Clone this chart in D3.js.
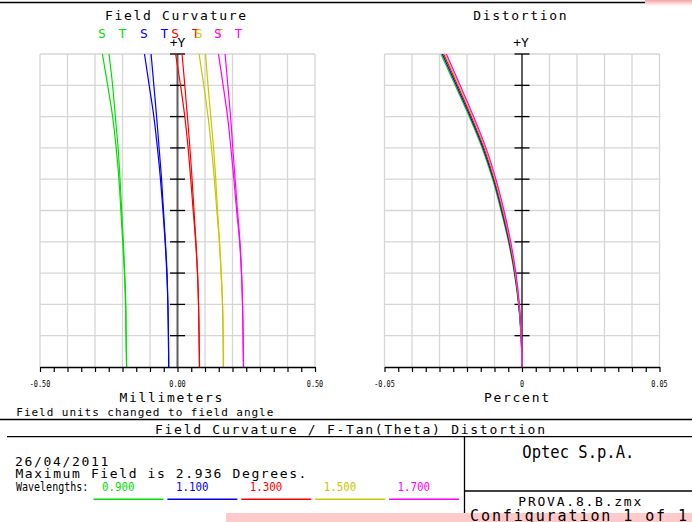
<!DOCTYPE html>
<html>
<head>
<meta charset="utf-8">
<script src="https://cdn.jsdelivr.net/npm/d3@7"></script>
<style>
  body { margin: 0; background: #fff; }
  text { font-family: "DejaVu Sans Mono", monospace; fill: #000; }
</style>
</head>
<body>
<svg width="692" height="522"></svg>
<script>
/*global d3*/

// field points (degrees), 0 .. max field 2.936
const fieldDeg = [0, 0.294, 0.587, 0.881, 1.174, 1.468, 1.762, 2.055, 2.349, 2.642, 2.936];

const wavelengths = ["0.900", "1.100", "1.300", "1.500", "1.700"];
const colors = ["#00e000", "#0000ff", "#ff0000", "#c8c800", "#ff00ff"];

// field curvature, millimeters (S = sagittal, T = tangential), one row per wavelength
const curveS = [
    [-0.185, -0.187, -0.189, -0.193, -0.199, -0.206, -0.213, -0.223, -0.236, -0.254, -0.273],
    [-0.032, -0.033, -0.035, -0.039, -0.045, -0.053, -0.062, -0.073, -0.086, -0.103, -0.120],
    [0.080, 0.0785, 0.0765, 0.0725, 0.066, 0.057, 0.048, 0.0385, 0.0265, 0.011, -0.007],
    [0.167, 0.166, 0.1635, 0.1585, 0.152, 0.143, 0.134, 0.1235, 0.111, 0.0955, 0.0785],
    [0.240, 0.2385, 0.2365, 0.2325, 0.226, 0.215, 0.205, 0.194, 0.182, 0.166, 0.149]
];
const curveT = [
    [-0.185, -0.187, -0.188, -0.192, -0.197, -0.203, -0.209, -0.216, -0.226, -0.236, -0.249],
    [-0.032, -0.033, -0.035, -0.038, -0.044, -0.051, -0.058, -0.067, -0.076, -0.086, -0.096],
    [0.080, 0.0785, 0.0765, 0.073, 0.067, 0.060, 0.053, 0.045, 0.036, 0.0265, 0.0165],
    [0.167, 0.166, 0.164, 0.159, 0.153, 0.1455, 0.139, 0.131, 0.121, 0.111, 0.102],
    [0.240, 0.2385, 0.2365, 0.233, 0.227, 0.218, 0.2095, 0.201, 0.193, 0.183, 0.173]
];

// f-tan(theta) distortion, percent
const distortion = [
    [0, -0.00036, -0.00126, -0.00278, -0.0049, -0.00764, -0.0107, -0.0145, -0.0192, -0.0243, -0.0295],
    [0, -0.00033, -0.00118, -0.00264, -0.0047, -0.00737, -0.0104, -0.01415, -0.0188, -0.02385, -0.0290],
    [0, -0.00030, -0.00110, -0.00250, -0.0045, -0.00710, -0.0101, -0.0138, -0.0184, -0.0234, -0.0285],
    [0, -0.00027, -0.00102, -0.00236, -0.0043, -0.00683, -0.0098, -0.01345, -0.0180, -0.02295, -0.0280],
    [0, -0.00024, -0.00094, -0.00222, -0.0041, -0.00656, -0.0095, -0.0131, -0.0176, -0.0225, -0.0275]
];

const fcTicks = [-0.5, 0, 0.5];
const fcTickLabels = ["-0.50", "0.00", "0.50"];
const dtTicks = [-0.05, 0, 0.05];
const dtTickLabels = ["-0.05", "0", "0.05"];

const svg = d3.select("svg");

const y = d3.scaleLinear().domain([0, 2.936]).range([367, 54]);
const xFC = d3.scaleLinear().domain([-0.5, 0.5]).range([40, 315]);
const xDT = d3.scaleLinear().domain([-0.05, 0.05]).range([384.5, 659.5]);

function txt(sel, s, x, yy, size, len, opts) {
    opts = opts || {};
    const t = sel.append("text")
        .attr("x", x).attr("y", yy)
        .style("font-size", size + "px")
        .text(s);
    if (len) t.attr("textLength", len).attr("lengthAdjust", opts.adjust || "spacing");
    if (opts.anchor) t.attr("text-anchor", opts.anchor);
    if (opts.fill) t.style("fill", opts.fill);
    return t;
}

function hline(x1, x2, yy, w) {
    svg.append("line").attr("x1", x1).attr("x2", x2).attr("y1", yy).attr("y2", yy)
        .attr("stroke", "#000").attr("stroke-width", w || 1.3);
}
function vline(xx, y1, y2, w) {
    svg.append("line").attr("x1", xx).attr("x2", xx).attr("y1", y1).attr("y2", y2)
        .attr("stroke", "#000").attr("stroke-width", w || 1.3);
}

const line = d3.line().curve(d3.curveCatmullRom);

function panel(x, ticks, labels, series) {
    const g = svg.append("g");

    // grid
    g.append("g").selectAll("line")
        .data(x.ticks(10))
        .enter().append("line")
        .attr("x1", d => x(d)).attr("x2", d => x(d))
        .attr("y1", y(0)).attr("y2", y(2.936))
        .attr("stroke", "#d6d6d6").attr("stroke-width", 1.3);
    g.append("g").selectAll("line")
        .data(fieldDeg.slice(1))
        .enter().append("line")
        .attr("x1", x.range()[0]).attr("x2", x.range()[1])
        .attr("y1", d => y(d)).attr("y2", d => y(d))
        .attr("stroke", "#d6d6d6").attr("stroke-width", 1.3);

    // centre (+Y) axis
    g.append("line")
        .attr("x1", x(0)).attr("x2", x(0))
        .attr("y1", y(0)).attr("y2", y(2.936))
        .attr("stroke", "#606060").attr("stroke-width", 2);
    g.append("g").selectAll("line")
        .data(fieldDeg.slice(1))
        .enter().append("line")
        .attr("x1", x(0) - 7.5).attr("x2", x(0) + 7.5)
        .attr("y1", d => y(d)).attr("y2", d => y(d))
        .attr("stroke", "#000").attr("stroke-width", 1.3);

    // curves
    series.forEach(s => {
        g.append("path")
            .attr("d", line(s.values.map((v, i) => [x(v), y(fieldDeg[i])])))
            .attr("fill", "none")
            .attr("stroke", s.color)
            .attr("stroke-width", 1.2);
    });

    // bottom axis
    const axis = d3.axisBottom(x)
        .tickValues(x.ticks(20))
        .tickSize(5)
        .tickSizeOuter(0)
        .tickFormat("");
    const ax = g.append("g").attr("transform", "translate(0," + y(0) + ")").call(axis);
    ax.select(".domain").attr("stroke", "#000").attr("stroke-width", 1.5);
    ax.selectAll(".tick line").attr("stroke", "#000").attr("stroke-width", 1.2);

    ticks.forEach((t, i) => {
        txt(g, labels[i], x(t), 386.5, 8, labels[i].length * 4.1,
            { anchor: "middle", adjust: "spacingAndGlyphs" });
    });
}

const fcSeries = [];
colors.forEach((c, i) => {
    fcSeries.push({ color: c, values: curveS[i] });
    fcSeries.push({ color: c, values: curveT[i] });
});
panel(xFC, fcTicks, fcTickLabels, fcSeries);
panel(xDT, dtTicks, dtTickLabels, distortion.map((d, i) => ({ color: colors[i], values: d })));

// titles and legend
txt(svg, "Field Curvature", 105, 20, 13, 141);
txt(svg, "Distortion", 473.3, 20, 13, 93.4);
colors.forEach((c, i) => {
    const sx = xFC(curveS[i][curveS[i].length - 1]) - 0.5;
    txt(svg, "S", sx, 37.7, 13, null, { anchor: "middle", fill: c });
    txt(svg, "T", sx + 20.5, 37.7, 13, null, { anchor: "middle", fill: c });
});
txt(svg, "+Y", xFC(0), 46.5, 13, null, { anchor: "middle" });
txt(svg, "+Y", xDT(0) - 1, 46.5, 13, null, { anchor: "middle" });

txt(svg, "Millimeters", 119.4, 402, 13, 103);
txt(svg, "Percent", 484, 402, 13, 65);
txt(svg, "Field units changed to field angle", 16.3, 415.5, 11, 257);

// frame lines
hline(0, 692, 2.5);
hline(0, 692, 419.5);
txt(svg, "Field Curvature / F-Tan(Theta) Distortion", 155, 434, 13, 390);
hline(7, 692, 436.7);
vline(464.5, 436.7, 522);
hline(464.5, 692, 491);

// pink highlight marks of the source image
const defs = svg.append("defs");
const grad = defs.append("linearGradient").attr("id", "pinkfade")
    .attr("x1", 0).attr("y1", 0).attr("x2", 0).attr("y2", 1);
grad.append("stop").attr("offset", "0%").attr("stop-color", "#f6a3a3");
grad.append("stop").attr("offset", "100%").attr("stop-color", "#ffffff");
svg.append("rect").attr("x", 645).attr("y", 0).attr("width", 47).attr("height", 6)
    .attr("fill", "url(#pinkfade)");
svg.append("rect").attr("x", 226).attr("y", 513).attr("width", 466).attr("height", 9)
    .attr("fill", "#ffcaca");

// info box
txt(svg, "Optec S.p.A.", 522.3, 458.3, 18, 112, { adjust: "spacingAndGlyphs" });
txt(svg, "PROVA.8.B.zmx", 518.3, 505.7, 13, 123);
txt(svg, "Configuration 1 of 1", 470, 520.7, 15, 217);

txt(svg, "26/04/2011", 15, 466, 13, 93.3);
txt(svg, "Maximum Field is 2.936 Degrees.", 15.4, 477.7, 13, 291);
txt(svg, "Wavelengths:", 16, 490.7, 11.5, 72.3, { adjust: "spacingAndGlyphs" });
wavelengths.forEach((w, i) => {
    const x0 = 93.5 + i * 73.9;
    txt(svg, w, x0 + 8.5, 491, 11.5, 32.5, { adjust: "spacingAndGlyphs", fill: colors[i] });
    svg.append("line")
        .attr("x1", x0).attr("x2", x0 + 70)
        .attr("y1", 499.3).attr("y2", 499.3)
        .attr("stroke", colors[i]).attr("stroke-width", 1.5);
});
</script>
</body>
</html>
